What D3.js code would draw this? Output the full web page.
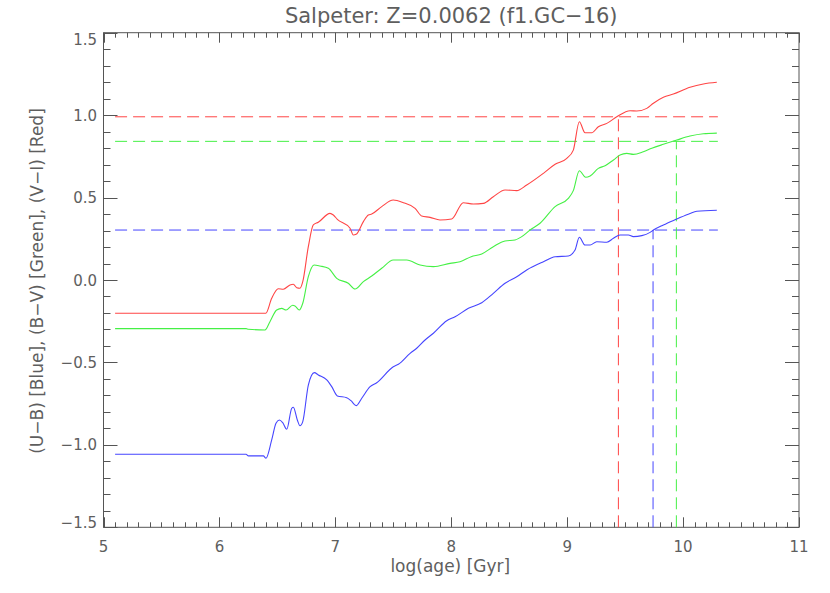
<!DOCTYPE html>
<html>
<head>
<meta charset="utf-8">
<script src="https://cdn.jsdelivr.net/npm/d3@7"></script>
<style>
  html, body { margin: 0; padding: 0; background: #fff; }
  svg { display: block; }
  text { font-family: "DejaVu Sans", sans-serif; fill: #5e5e5e; }
</style>
</head>
<body>
<svg id="chart" width="830" height="593"></svg>
<script>
// ---- data ----
const chartTitle = "Salpeter: Z=0.0062 (f1.GC\u221216)";
const xLabel = "log(age) [Gyr]";
const yLabel = "(U\u2212B) [Blue], (B\u2212V) [Green], (V\u2212I) [Red]";

const xMajorTicks = [5, 6, 7, 8, 9, 10, 11];
const xTickLabels = ["5", "6", "7", "8", "9", "10", "11"];
const yMajorTicks = [-1.5, -1.0, -0.5, 0.0, 0.5, 1.0, 1.5];
const yTickLabels = ["\u22121.5", "\u22121.0", "\u22120.5", "0.0", "0.5", "1.0", "1.5"];

// V-I (red)
const viX = [5.1,6.25,6.40,6.451,6.508,6.551,6.609,6.638,6.667,6.695,6.719,6.767,6.810,6.853,6.954,6.983,7.017,7.127,7.155,7.179,7.242,7.285,7.314,7.400,7.500,7.587,7.688,7.745,7.817,7.903,8.004,8.104,8.191,8.277,8.363,8.464,8.565,8.651,8.795,8.896,8.997,9.053,9.105,9.154,9.212,9.269,9.342,9.428,9.543,9.600,9.687,9.744,9.830,9.916,10.060,10.175,10.291];
const viY = [-0.202,-0.202,-0.202,-0.111,-0.053,-0.056,-0.030,-0.026,-0.047,-0.050,-0.010,0.202,0.334,0.350,0.404,0.394,0.368,0.314,0.273,0.277,0.354,0.394,0.400,0.445,0.485,0.469,0.435,0.388,0.380,0.364,0.370,0.469,0.461,0.465,0.505,0.546,0.542,0.576,0.647,0.702,0.738,0.788,0.960,0.893,0.893,0.930,0.950,0.990,1.027,1.025,1.041,1.072,1.108,1.128,1.169,1.189,1.199];

// B-V (green)
const bvX = [5.1,6.23,6.25,6.393,6.436,6.494,6.538,6.575,6.632,6.652,6.689,6.719,6.767,6.816,6.868,6.940,7.012,7.112,7.170,7.242,7.314,7.400,7.500,7.616,7.731,7.846,7.990,8.076,8.172,8.263,8.363,8.464,8.550,8.608,8.680,8.766,8.896,9.010,9.053,9.105,9.160,9.198,9.269,9.327,9.399,9.456,9.514,9.571,9.657,9.730,9.830,9.946,10.060,10.175,10.291];
const bvY = [-0.295,-0.295,-0.299,-0.303,-0.253,-0.182,-0.172,-0.182,-0.153,-0.158,-0.182,-0.141,0.020,0.091,0.085,0.071,0.010,-0.020,-0.055,-0.010,0.024,0.071,0.121,0.121,0.091,0.081,0.101,0.111,0.141,0.158,0.202,0.237,0.243,0.263,0.303,0.344,0.445,0.495,0.542,0.663,0.623,0.631,0.677,0.693,0.728,0.758,0.768,0.762,0.778,0.799,0.823,0.849,0.873,0.887,0.891];

// U-B (blue)
const ubX = [5.1,6.23,6.25,6.379,6.402,6.451,6.488,6.517,6.546,6.581,6.624,6.638,6.672,6.695,6.719,6.767,6.819,6.853,6.926,6.969,7.017,7.098,7.135,7.179,7.228,7.300,7.357,7.500,7.544,7.645,7.702,7.774,7.846,7.961,8.033,8.148,8.263,8.363,8.464,8.565,8.651,8.795,8.896,9.010,9.068,9.105,9.154,9.198,9.255,9.342,9.399,9.456,9.528,9.571,9.644,9.715,9.744,9.830,9.946,10.060,10.118,10.291];
const ubY = [-1.057,-1.057,-1.067,-1.067,-1.081,-0.970,-0.869,-0.849,-0.865,-0.905,-0.778,-0.772,-0.849,-0.884,-0.859,-0.637,-0.562,-0.576,-0.606,-0.647,-0.703,-0.714,-0.732,-0.762,-0.717,-0.647,-0.623,-0.526,-0.511,-0.445,-0.414,-0.364,-0.323,-0.247,-0.223,-0.172,-0.138,-0.081,-0.020,0.020,0.061,0.111,0.141,0.146,0.182,0.259,0.212,0.212,0.232,0.229,0.253,0.273,0.273,0.263,0.269,0.289,0.303,0.334,0.370,0.404,0.417,0.423];

// reference (dashed) levels
const refNames = ["V-I", "B-V", "U-B"];
const refLevels = [0.99, 0.841, 0.303];
const refAges = [9.442, 9.942, 9.741];
const refSpan = [5.1, 10.3];

// ---- drawing ----
const colors = {"V-I": "#ff4545", "B-V": "#45f045", "U-B": "#4545ff"};
const svg = d3.select("#chart");
const x = d3.scaleLinear().domain([5, 11]).range([103.5, 799]);
const y = d3.scaleLinear().domain([-1.5, 1.5]).range([527.3, 32.7]);
const axisColor = "#555";

// frame
svg.append("rect")
  .attr("x", x(5)).attr("y", y(1.5))
  .attr("width", x(11) - x(5)).attr("height", y(-1.5) - y(1.5))
  .attr("fill", "none").attr("stroke", axisColor).attr("stroke-width", 1);

// x ticks (bottom & top)
const xMinor = d3.range(50, 111).map(d => d / 10);
const xMinorOnly = xMinor.filter(v => Math.abs(v - Math.round(v)) > 1e-6);
const gT = svg.append("g").attr("stroke", axisColor).attr("stroke-width", 1);
function vtick(v, len) {
  const px = Math.round(x(v)) + 0.5;
  gT.append("line").attr("x1", px).attr("x2", px).attr("y1", y(-1.5)).attr("y2", y(-1.5) - len);
  gT.append("line").attr("x1", px).attr("x2", px).attr("y1", y(1.5)).attr("y2", y(1.5) + len);
}
xMinorOnly.forEach(v => vtick(v, 5));
xMajorTicks.forEach(v => vtick(v, 10));

// y ticks (left & right)
const yMinor = d3.range(-15, 16).map(d => d / 10);
const yMinorOnly = yMinor.filter(v => Math.abs(v * 2 - Math.round(v * 2)) > 1e-6);
function htick(v, len) {
  const py = Math.round(y(v)) + 0.5;
  gT.append("line").attr("x1", x(5)).attr("x2", x(5) + len).attr("y1", py).attr("y2", py);
  gT.append("line").attr("x1", x(11)).attr("x2", x(11) - len).attr("y1", py).attr("y2", py);
}
yMinorOnly.forEach(v => htick(v, 7));
yMajorTicks.forEach(v => htick(v, 14));

// tick labels
svg.append("g").selectAll("text").data(xMajorTicks).join("text")
  .attr("x", d => x(d)).attr("y", 552)
  .attr("text-anchor", "middle").attr("font-size", 15)
  .text((d, i) => xTickLabels[i]);

svg.append("g").selectAll("text").data(yMajorTicks).join("text")
  .attr("x", 97)
  .attr("y", d => {
    let c = y(d) + 5.5;
    if (d === 1.5) c = y(d) + 12;
    if (d === -1.5) c = y(d) + 0.5;
    return c;
  })
  .attr("text-anchor", "end").attr("font-size", 15)
  .text((d, i) => yTickLabels[i]);

// titles
svg.append("text").attr("x", (x(5) + x(11)) / 2).attr("y", 23)
  .attr("text-anchor", "middle").attr("font-size", 21).text(chartTitle);
svg.append("text").attr("x", (x(5) + x(11)) / 2 - 1).attr("y", 572)
  .attr("text-anchor", "middle").attr("font-size", 17).text(xLabel);
svg.append("text").attr("transform", "translate(43,281) rotate(-90)")
  .attr("text-anchor", "middle").attr("font-size", 17).text(yLabel);

// reference dashed lines
const gRef = svg.append("g").attr("fill", "none").attr("stroke-width", 1).attr("stroke-dasharray", "12,6");
refNames.forEach((n, i) => {
  gRef.append("line")
    .attr("x1", x(refSpan[0])).attr("x2", x(refSpan[1]))
    .attr("y1", y(refLevels[i])).attr("y2", y(refLevels[i]))
    .attr("stroke", colors[n]);
});
refNames.forEach((n, i) => {
  gRef.append("line")
    .attr("x1", x(refAges[i])).attr("x2", x(refAges[i]))
    .attr("y1", y(-1.5)).attr("y2", y(refLevels[i]))
    .attr("stroke", colors[n]);
});

// curves
const series = [
  {name: "V-I", xs: viX, ys: viY},
  {name: "B-V", xs: bvX, ys: bvY},
  {name: "U-B", xs: ubX, ys: ubY}
];
const line = d3.line().x(d => x(d[0])).y(d => y(d[1])).curve(d3.curveMonotoneX);
series.forEach(s => {
  const pts = s.xs.map((v, i) => [v, s.ys[i]]);
  svg.append("path").datum(pts)
    .attr("d", line).attr("fill", "none")
    .attr("stroke", colors[s.name]).attr("stroke-width", 1.1);
});
</script>
</body>
</html>
